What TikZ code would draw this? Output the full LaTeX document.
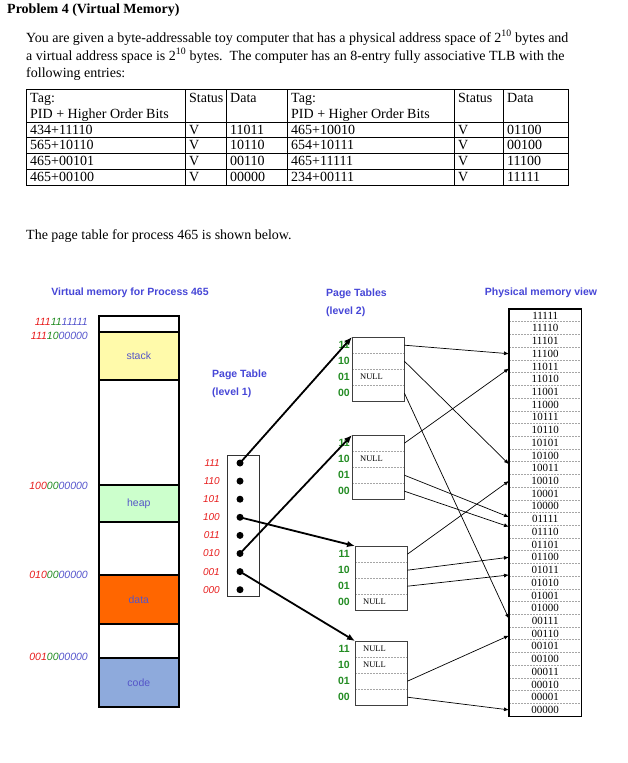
\documentclass[tikz,border=0pt]{standalone}
\usepackage{fontspec}
\setmainfont{Liberation Serif}
\setsansfont{Liberation Sans}
\usetikzlibrary{arrows.meta}
\definecolor{ttlblue}{RGB}{70,70,215}
\definecolor{lblred}{RGB}{232,30,30}
\definecolor{lblgreen}{RGB}{35,140,35}
\definecolor{lblblue}{RGB}{85,85,205}
\definecolor{stackc}{RGB}{255,250,170}
\definecolor{heapc}{RGB}{204,255,204}
\definecolor{datac}{RGB}{255,102,0}
\definecolor{codec}{RGB}{142,170,220}
\definecolor{segtxt}{RGB}{85,85,200}
\newcommand{\ltwotab}[4]{% name, x, y, label xshift
  \node[l2row] (#1r3) at (#2,#3) {};
  \node[l2row] (#1r2) at (#2,{#3+16}) {};
  \node[l2row] (#1r1) at (#2,{#3+32}) {};
  \node[l2row] (#1r0) at (#2,{#3+48}) {};
  \draw[sep] (#1r3.south west) -- (#1r3.south east);
  \draw[sep] (#1r2.south west) -- (#1r2.south east);
  \draw[sep] (#1r1.south west) -- (#1r1.south east);
  \draw[l2box] (#1r3.north west) rectangle (#1r0.south east);
  \node[ltwolbl] (#1l3) at ([xshift=#4]#1r3.west) {11};
  \node[ltwolbl] (#1l2) at ([xshift=#4]#1r2.west) {10};
  \node[ltwolbl] (#1l1) at ([xshift=#4]#1r1.west) {01};
  \node[ltwolbl] (#1l0) at ([xshift=#4]#1r0.west) {00};
}
\begin{document}
\begin{tikzpicture}[x=1pt,y=-1pt,
  body/.style={inner sep=0pt, anchor=base west, font=\fontsize{14}{16}\selectfont},
  ttl/.style={inner sep=0pt, text=ttlblue, font=\sffamily\bfseries\fontsize{10.5}{12}\selectfont},
  seg/.style={draw=black, line width=1.6pt, minimum width=80pt, anchor=north west, inner sep=0pt, text=segtxt, font=\sffamily\fontsize{10.5}{12}\selectfont},
  addr/.style={inner sep=0pt, anchor=east, font=\sffamily\itshape\fontsize{10.5}{12}\selectfont},
  lonelbl/.style={inner sep=0pt, anchor=east, text=lblred, font=\sffamily\itshape\fontsize{10}{12}\selectfont},
  ltwolbl/.style={inner sep=0pt, anchor=east, text=lblgreen, font=\sffamily\bfseries\fontsize{10.5}{12}\selectfont},
  dotnode/.style={circle, fill=black, inner sep=0pt, minimum size=7pt},
  l2row/.style={minimum width=52pt, minimum height=16pt, inner sep=0pt, anchor=north west},
  l2box/.style={line width=0.8pt, draw=black!75},
  nulltxt/.style={inner sep=0pt, anchor=west, font=\fontsize{8.5}{10}\selectfont},
  prow/.style={minimum width=72pt, minimum height=12.72pt, inner sep=0pt, anchor=north west, font=\fontsize{11}{12}\selectfont},
  thickarrow/.style={line width=1.8pt, -{Latex[length=8pt,width=6.5pt]}},
  thinarrow/.style={line width=0.7pt, -{Latex[length=5pt,width=4pt]}},
  sep/.style={draw=gray!70, line width=0.5pt, dash pattern=on 2pt off 1pt},
  tline/.style={line width=0.6pt, draw=black},
]
\useasboundingbox[fill=white] (0,0) rectangle (627,763);

% ---------- text ----------
\node[body, font=\bfseries\fontsize{14}{16}\selectfont] (title) at (7,13) {Problem 4 (Virtual Memory)};
\node[body] (para1) at (26,42) {You are given a byte-addressable toy computer that has a physical address space of 2\textsuperscript{10} bytes and};
\node[body] (para2) at (26,60) {a virtual address space is 2\textsuperscript{10} bytes.\ \ The computer has an 8-entry fully associative TLB with the};
\node[body] (para3) at (26,77) {following entries:};

% ---------- TLB table ----------
\draw[tline] (26,89) rectangle (568,185);
\foreach \yy in {122,137.75,153.5,169.25} \draw[tline] (26,\yy) -- (568,\yy);
\foreach \xx in {185,226,287,454,503} \draw[tline] (\xx,89) -- (\xx,185);
\node[body] (h1) at (30,102) {Tag:};
\node[body] (h2) at (30,118) {PID + Higher Order Bits};
\node[body] (h3) at (189,102) {Status};
\node[body] (h4) at (230,102) {Data};
\node[body] (h5) at (291,102) {Tag:};
\node[body] (h6) at (291,118) {PID + Higher Order Bits};
\node[body] (h7) at (458,102) {Status};
\node[body] (h8) at (507,102) {Data};
\foreach \ca/\cb/\cc/\cd/\ce/\cf [count=\k from 0] in
  {434+11110/V/11011/465+10010/V/01100,
   565+10110/V/10110/654+10111/V/00100,
   465+00101/V/00110/465+11111/V/11100,
   465+00100/V/00000/234+00111/V/11111}{
  \node[body] (ra\k) at (30,{134+15.75*\k}) {\ca};
  \node[body] (rb\k) at (189,{134+15.75*\k}) {\cb};
  \node[body] (rc\k) at (230,{134+15.75*\k}) {\cc};
  \node[body] (rd\k) at (291,{134+15.75*\k}) {\cd};
  \node[body] (re\k) at (458,{134+15.75*\k}) {\ce};
  \node[body] (rf\k) at (507,{134+15.75*\k}) {\cf};
}

\node[body] (para4) at (26,239) {The page table for process 465 is shown below.};

% ---------- titles ----------
\node[ttl] (vmt) at (130,293) {Virtual memory for Process 465};
\node[ttl, anchor=west] (pt1a) at (212,375) {Page Table};
\node[ttl, anchor=west] (pt1b) at (212,393) {(level 1)};
\node[ttl, anchor=west] (pt2a) at (326,294) {Page Tables};
\node[ttl, anchor=west] (pt2b) at (326,312) {(level 2)};
\node[ttl] (pmt) at (541,293) {Physical memory view};

% ---------- virtual memory ----------
\node[seg, minimum height=16pt] (vtop) at (98,315) {};
\node[seg, minimum height=48pt, fill=stackc] (stack) at (98,331) {stack};
\node[seg, minimum height=105pt] (vgap1) at (98,379) {};
\node[seg, minimum height=37pt, fill=heapc] (heap) at (98,484) {heap};
\node[seg, minimum height=53pt] (vgap2) at (98,521) {};
\node[seg, minimum height=49pt, fill=datac] (data) at (98,574) {data};
\node[seg, minimum height=34pt] (vgap3) at (98,623) {};
\node[seg, minimum height=49pt, fill=codec] (code) at (98,657) {code};

\node[addr] (ad1) at (88,322) {\textcolor{lblred}{111}\textcolor{lblgreen}{11}\textcolor{lblblue}{11111}};
\node[addr] (ad2) at (88,336) {\textcolor{lblred}{111}\textcolor{lblgreen}{10}\textcolor{lblblue}{00000}};
\node[addr] (ad3) at (88,486) {\textcolor{lblred}{100}\textcolor{lblgreen}{00}\textcolor{lblblue}{00000}};
\node[addr] (ad4) at (88,575) {\textcolor{lblred}{010}\textcolor{lblgreen}{00}\textcolor{lblblue}{00000}};
\node[addr] (ad5) at (88,657) {\textcolor{lblred}{001}\textcolor{lblgreen}{00}\textcolor{lblblue}{00000}};

% ---------- level 1 page table ----------
\node[draw=black!80, line width=0.8pt, minimum width=32pt, minimum height=141pt, inner sep=0pt, anchor=north west] (ptone) at (227,455) {};
\foreach \lb [count=\j from 0] in {111,110,101,100,011,010,001,000}{
  \node[dotnode] (d\lb) at (240,{463+18.1*\j}) {};
  \node[lonelbl] (l\lb) at (220,{463+18.1*\j}) {\lb};
}

% ---------- level 2 page tables ----------
\ltwotab{ta}{352}{337}{-2pt}
\ltwotab{tb}{352}{435}{-2pt}
\ltwotab{tc}{355}{546}{-5pt}
\ltwotab{td}{355}{641}{-5pt}
\node[nulltxt] (na) at ([xshift=8pt]tar1.west) {NULL};
\node[nulltxt] (nb) at ([xshift=8pt]tbr2.west) {NULL};
\node[nulltxt] (nc) at ([xshift=8pt]tcr0.west) {NULL};
\node[nulltxt] (nd) at ([xshift=8pt]tdr3.west) {NULL};
\node[nulltxt] (ne) at ([xshift=8pt]tdr2.west) {NULL};

% ---------- physical memory ----------
\foreach \b [count=\i from 0] in {11111,11110,11101,11100,11011,11010,11001,11000,10111,10110,10101,10100,10011,10010,10001,10000,01111,01110,01101,01100,01011,01010,01001,01000,00111,00110,00101,00100,00011,00010,00001,00000}{
  \node[prow] (m\b) at (509,{309+12.72*\i}) {\b};
}
\foreach \i in {1,...,31} \draw[sep] (509,{309+12.72*\i}) -- (581,{309+12.72*\i});
\draw[line width=1.8pt] (m11111.north west) rectangle (m00000.south east);

% ---------- level 1 -> level 2 ----------
\draw[thickarrow] (d111.center) -- (tar3.north west);
\draw[thickarrow] (d010.center) -- (tbr3.north west);
\draw[thickarrow] (d100.center) -- (tcr3.north west);
\draw[thickarrow] (d001.center) -- (tdr3.north west);

% ---------- level 2 -> physical ----------
\draw[thinarrow] (tar3.east) -- (m11100.west);
\draw[thinarrow] (tar2.east) -- ([yshift=4pt]m10011.west);
\draw[thinarrow] (tar0.east) -- ([yshift=2pt]m00111.west);
\draw[thinarrow] (tbr3.east) -- ([yshift=-2pt]m11011.west);
\draw[thinarrow] (tbr1.east) -- ([yshift=2pt]m01111.west);
\draw[thinarrow] (tbr0.east) -- ([yshift=5pt]m01110.west);
\draw[thinarrow] (tcr3.east) -- (m10010.west);
\draw[thinarrow] (tcr2.east) -- (m01100.west);
\draw[thinarrow] (tcr1.east) -- ([yshift=-5pt]m01011.west);
\draw[thinarrow] (tdr1.east) -- ([yshift=-2pt]m00110.west);
\draw[thinarrow] (tdr0.east) -- (m00000.west);
\end{tikzpicture}
\end{document}
